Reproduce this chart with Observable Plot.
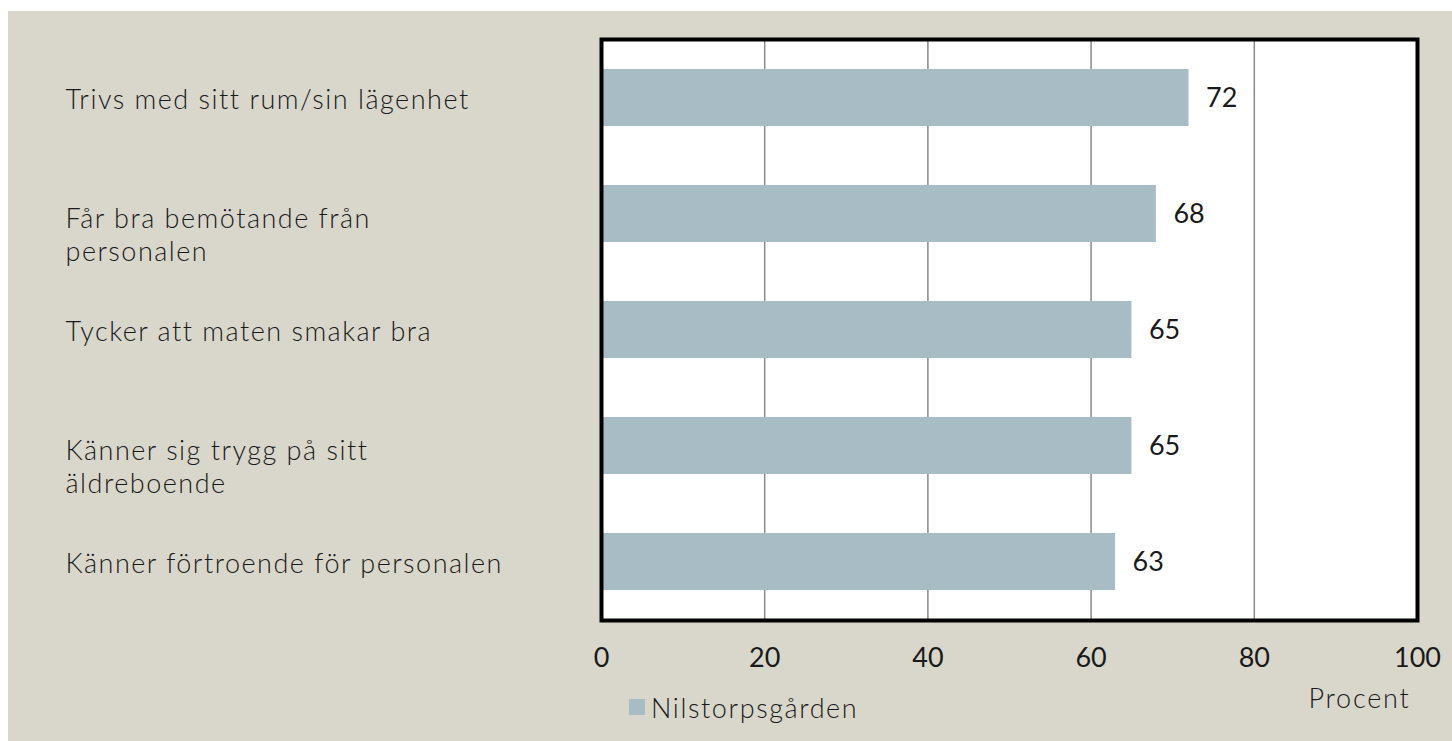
<!DOCTYPE html>
<html>
<head>
<meta charset="utf-8">
<script src="https://cdn.jsdelivr.net/npm/d3@7"></script>
<script src="https://cdn.jsdelivr.net/npm/@observablehq/plot@0.6"></script>
<style>
  html, body { margin: 0; padding: 0; background: #ffffff; }
  #panel { position: absolute; left: 8px; top: 11px; width: 1444px; height: 730px; background: #d9d7cb; overflow: hidden; }
  #legend { position: absolute; left: 621px; top: 680px; height: 32px; display: flex; align-items: center; gap: 6px;
            font-family: Lato, sans-serif; font-size: 27px; color: #1a1a1a; font-weight: 300; letter-spacing: 1.6px; }
  #legend .sw { width: 16px; height: 16px; }
  .wide text { letter-spacing: 1.5px; font-weight: 300; }
  .wider text { letter-spacing: 1.8px; font-weight: 300; }
</style>
</head>
<body>
<div id="panel">
  <div id="chart"></div>
  <div id="legend"><span class="sw"></span><span class="lbl"></span></div>
</div>
<script>
const categories = [
  "Trivs med sitt rum/sin lägenhet",
  "Får bra bemötande från\npersonalen",
  "Tycker att maten smakar bra",
  "Känner sig trygg på sitt\näldreboende",
  "Känner förtroende för personalen"
];
const values = [72, 68, 65, 65, 63];
const xTicks = [0, 20, 40, 60, 80, 100];
const gridTicks = [20, 40, 60, 80];
const seriesName = "Nilstorpsgården";
const axisLabel = "Procent";
const barColor = "#a8bcc6";

const data = categories.map((c, i) => ({category: c, value: values[i]}));
const labelOpts = {y: "category", text: "category", frameAnchor: "left", textAnchor: "start", dx: -536, lineAnchor: "top", lineHeight: 1.24, fill: "#1a1a1a", className: "wide"};

const chart = Plot.plot({
  width: 1444,
  height: 730,
  marginLeft: 593,
  marginRight: 35,
  marginTop: 28,
  marginBottom: 121,
  style: {background: "transparent", fontFamily: "Lato, sans-serif", fontSize: "27px", color: "#1a1a1a", overflow: "visible"},
  x: {domain: [0, 100], ticks: xTicks, label: null},
  y: {domain: categories, paddingInner: 0.51, paddingOuter: 0.255, axis: null},
  marks: [
    Plot.frame({fill: "white"}),
    Plot.gridX(gridTicks, {stroke: "#8a8a8a", strokeOpacity: 1, strokeWidth: 1.5}),
    Plot.barX(data, {x: "value", y: "category", fill: barColor}),
    Plot.text(data, {x: "value", y: "category", text: d => String(d.value), textAnchor: "start", dx: 17, fill: "#1a1a1a"}),
    Plot.text(data, {...labelOpts, filter: d => !d.category.includes("\n"), dy: -13}),
    Plot.text(data, {...labelOpts, filter: d => d.category.includes("\n"), dy: -10}),
    Plot.frame({stroke: "black", strokeWidth: 4}),
    Plot.axisX(xTicks, {tickSize: 0, tickPadding: 27, label: null, fill: "#1a1a1a"}),
    Plot.text([axisLabel], {text: d => d, frameAnchor: "bottom-right", textAnchor: "middle", lineAnchor: "top", dx: -58, dy: 68, fill: "#1a1a1a", className: "wider"})
  ]
});
document.getElementById("chart").appendChild(chart);
document.querySelector("#legend .sw").style.background = barColor;
document.querySelector("#legend .lbl").textContent = seriesName;
</script>
</body>
</html>
